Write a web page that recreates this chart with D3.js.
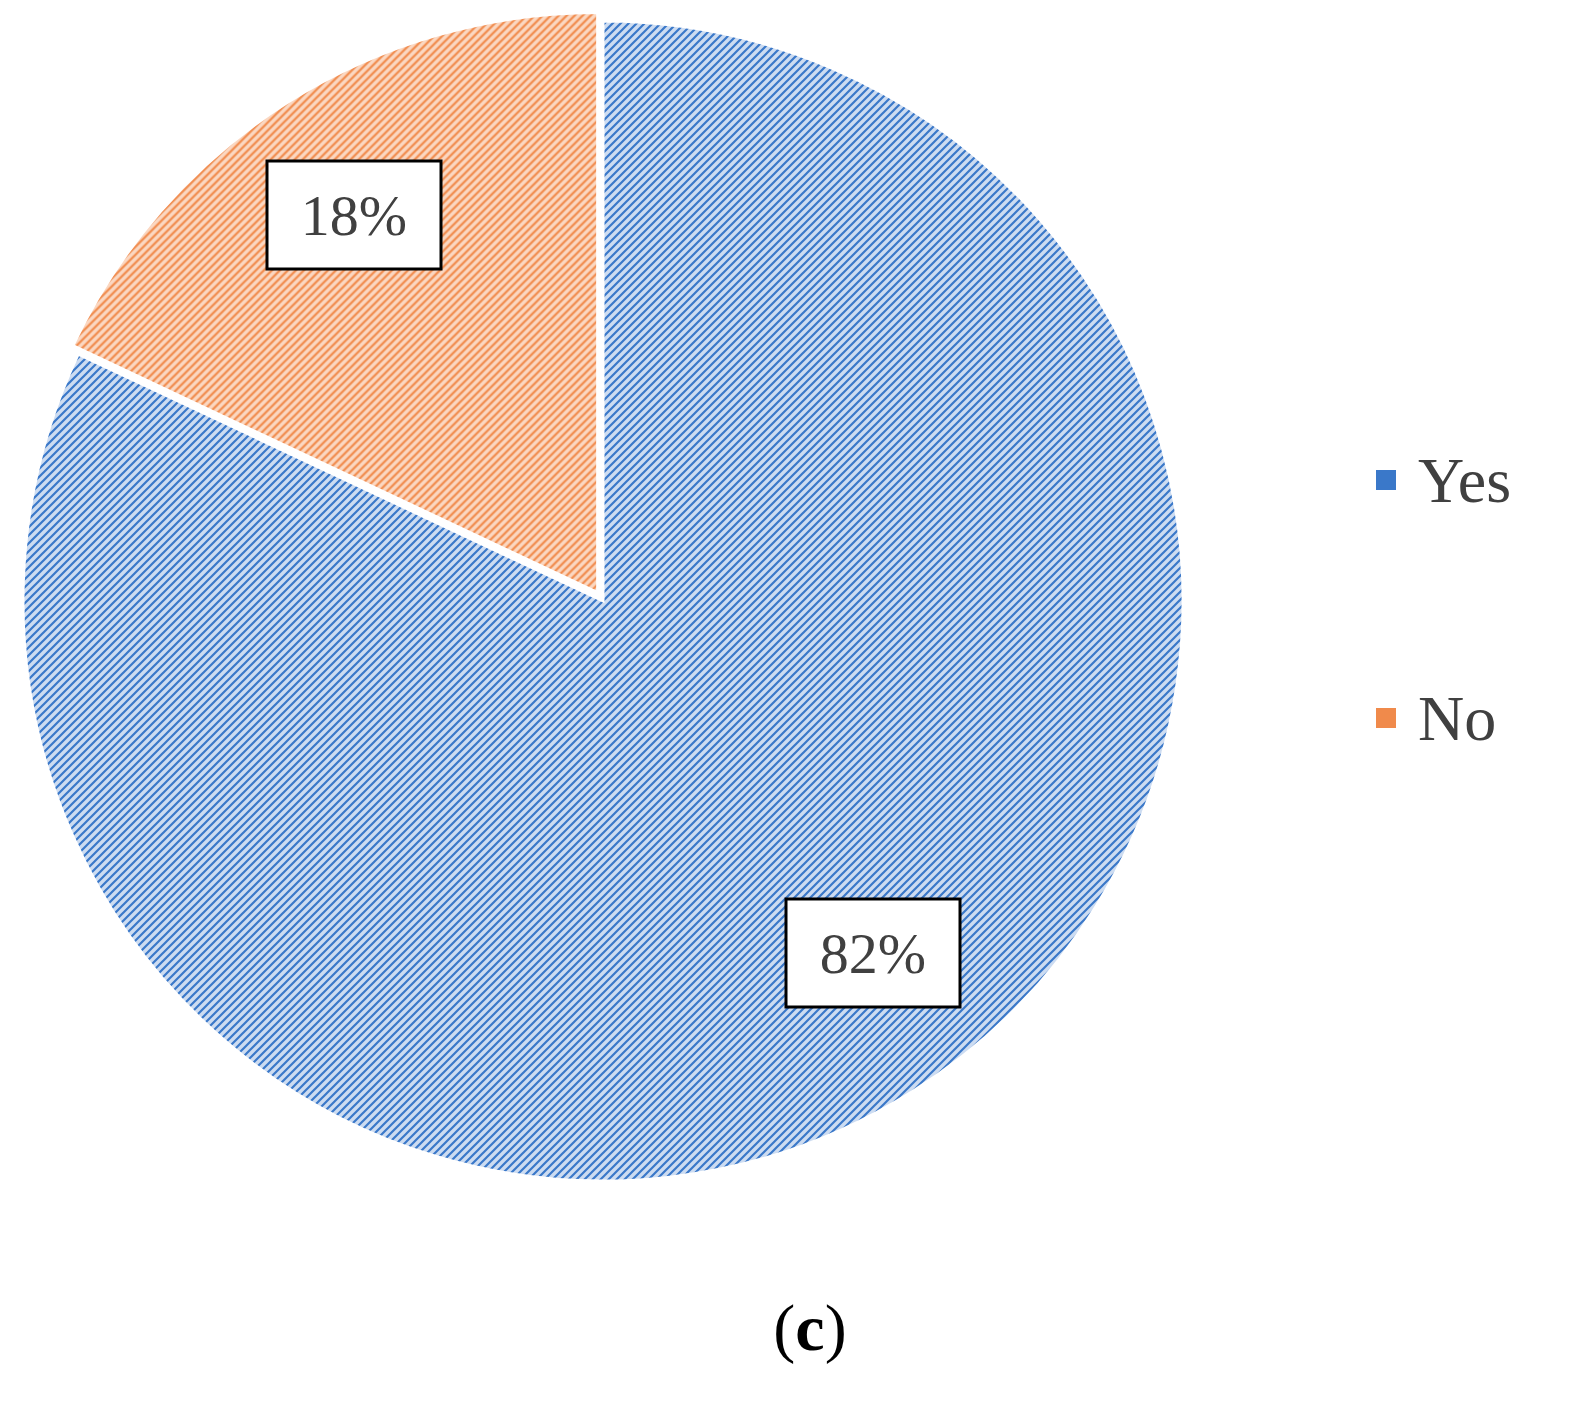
<!DOCTYPE html>
<html><head><meta charset="utf-8">
<script src="https://cdn.jsdelivr.net/npm/d3@7"></script>
<style>body{margin:0;background:#fff}</style>
</head><body>
<script>
var labels=['Yes','No'];
var values=[82,18];
var colors=['#3a78c9','#f08a4b'];
var lights=['#cddcf1','#fbd8c2'];

var svg=d3.select('body').append('svg').attr('width',1571).attr('height',1404);
var defs=svg.append('defs');
labels.forEach(function(l,i){
	var p=defs.append('pattern').attr('id','hatch'+i).attr('patternUnits','userSpaceOnUse')
		.attr('width',8).attr('height',8);
	p.append('rect').attr('width',8).attr('height',8).attr('fill',lights[i]);
	p.append('path').attr('d','M-2,2L2,-2M0,8L8,0M6,10L10,6').attr('stroke',colors[i]).attr('stroke-width',2.2);
});

var cx=603,cy=601,r=580;
var pie=d3.pie().sort(null).value(function(d){return d});
var arc=d3.arc().innerRadius(0).outerRadius(r);
var arcs=pie(values);
var g=svg.append('g').attr('transform','translate('+cx+','+cy+')');
g.selectAll('path.slice').data(arcs).enter().append('path')
	.attr('class','slice')
	.attr('d',arc)
	.attr('transform',function(d,i){
		if(i==0) return null;
		var a=(d.startAngle+d.endAngle)/2;
		return 'translate('+(Math.sin(a)*10)+','+(-Math.cos(a)*10)+')';
	})
	.attr('fill',function(d,i){return 'url(#hatch'+i+')'})
	.attr('stroke','#fff').attr('stroke-width',3);

// data labels
var lpos=[[873,953],[354,215]];
arcs.forEach(function(d,i){
	var lg=svg.append('g').attr('transform','translate('+lpos[i][0]+','+lpos[i][1]+')');
	lg.append('rect').attr('x',-87).attr('y',-54).attr('width',174).attr('height',108)
		.attr('fill','#fff').attr('stroke','#000').attr('stroke-width',3);
	lg.append('text').attr('text-anchor','middle').attr('dy','0.35em')
		.attr('font-family','Liberation Serif').attr('font-size',58).attr('fill','#404040')
		.text(values[i]+'%');
});

// legend
labels.forEach(function(l,i){
	var y=480+i*238;
	svg.append('rect').attr('x',1376).attr('y',y-10).attr('width',20).attr('height',20).attr('fill',colors[i]);
	svg.append('text').attr('x',1418).attr('y',y).attr('dy','0.35em')
		.attr('font-family','Liberation Serif').attr('font-size',64).attr('fill','#404040').text(l);
});

svg.append('text').attr('x',810).attr('y',1350).attr('text-anchor','middle')
	.attr('font-family','Liberation Serif').attr('font-size',66).attr('fill','#000')
	.html('(<tspan font-weight="bold">c</tspan>)');
</script>
</body></html>
